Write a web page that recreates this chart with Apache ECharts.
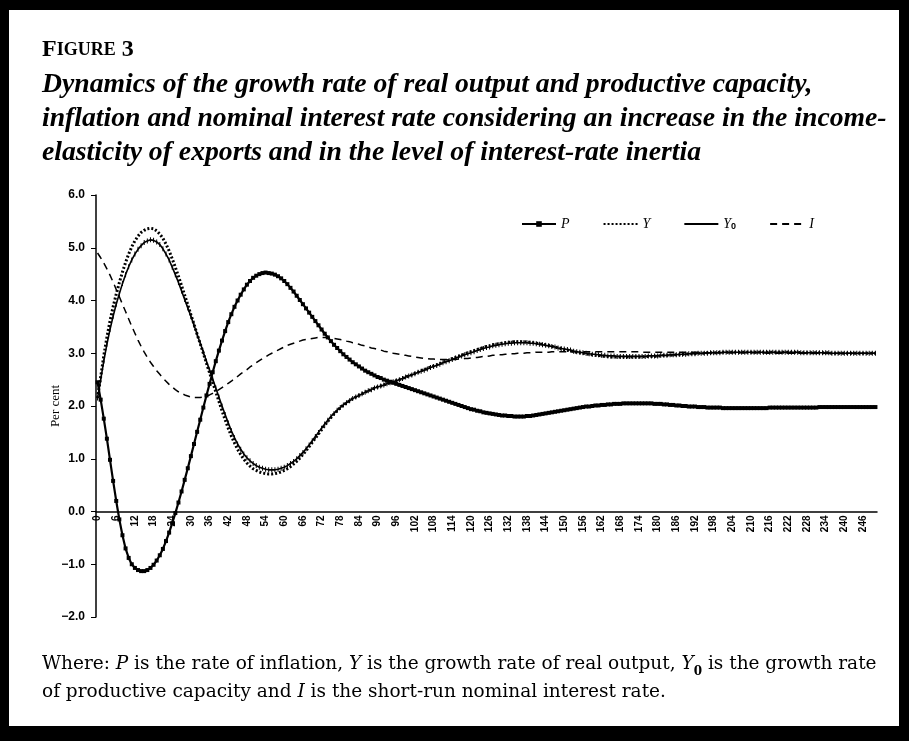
<!DOCTYPE html>
<html>
<head>
<meta charset="utf-8">
<script src="https://cdn.jsdelivr.net/npm/echarts@6.0.0/dist/echarts.min.js"></script>
<style>
html, body { margin: 0; padding: 0; background: #000; }
#chart { width: 909px; height: 741px; }
</style>
</head>
<body>
<div id="chart"></div>
<script>
// simulation periods 0..250 (category axis)
var periods = Array.from({ length: 251 }, function (_, i) { return String(i); });

// P - rate of inflation
var inflation = [
  2.45, 2.12, 1.76, 1.38, 0.98, 0.58, 0.2, -0.15, -0.45, -0.7,
  -0.88, -1.0, -1.07, -1.11, -1.13, -1.13, -1.11, -1.07, -1.01, -0.93,
  -0.83, -0.71, -0.56, -0.4, -0.22, -0.03, 0.17, 0.38, 0.6, 0.82,
  1.05, 1.28, 1.51, 1.74, 1.97, 2.2, 2.42, 2.64, 2.85, 3.05,
  3.24, 3.42, 3.59, 3.74, 3.88, 4.0, 4.11, 4.21, 4.3, 4.37,
  4.43, 4.47, 4.5, 4.52, 4.53, 4.52, 4.51, 4.49, 4.46, 4.42,
  4.37, 4.31, 4.24, 4.17, 4.09, 4.01, 3.93, 3.85, 3.77, 3.69,
  3.61, 3.53, 3.45, 3.37, 3.3, 3.23, 3.16, 3.1, 3.04, 2.98,
  2.93, 2.88, 2.83, 2.79, 2.75, 2.71, 2.67, 2.64, 2.61, 2.58,
  2.55, 2.53, 2.5, 2.48, 2.46, 2.44, 2.42, 2.4, 2.38, 2.36,
  2.34, 2.32, 2.3, 2.28, 2.26, 2.24, 2.22, 2.2, 2.18, 2.16,
  2.14, 2.12, 2.1, 2.08, 2.06, 2.04, 2.02, 2.0, 1.98, 1.96,
  1.94, 1.93, 1.91, 1.9, 1.88, 1.87, 1.86, 1.85, 1.84, 1.83,
  1.82, 1.82, 1.81, 1.81, 1.8, 1.8, 1.8, 1.8, 1.81, 1.81,
  1.82, 1.83, 1.84, 1.85, 1.86, 1.87, 1.88, 1.89, 1.9, 1.91,
  1.92, 1.93, 1.94, 1.95, 1.96, 1.97, 1.98, 1.99, 1.99, 2.0,
  2.01, 2.01, 2.02, 2.02, 2.03, 2.03, 2.04, 2.04, 2.04, 2.05,
  2.05, 2.05, 2.05, 2.05, 2.05, 2.05, 2.05, 2.05, 2.05, 2.04,
  2.04, 2.04, 2.03, 2.03, 2.02, 2.02, 2.01, 2.01, 2.0, 2.0,
  1.99, 1.99, 1.99, 1.98, 1.98, 1.98, 1.97, 1.97, 1.97, 1.97,
  1.97, 1.96, 1.96, 1.96, 1.96, 1.96, 1.96, 1.96, 1.96, 1.96,
  1.96, 1.96, 1.96, 1.96, 1.96, 1.96, 1.97, 1.97, 1.97, 1.97,
  1.97, 1.97, 1.97, 1.97, 1.97, 1.97, 1.97, 1.97, 1.97, 1.97,
  1.97, 1.97, 1.98, 1.98, 1.98, 1.98, 1.98, 1.98, 1.98, 1.98,
  1.98, 1.98, 1.98, 1.98, 1.98, 1.98, 1.98, 1.98, 1.98, 1.98,
  1.98
];

// Y - growth rate of real output
var outputGrowth = [
  2.15, 2.55, 2.95, 3.3, 3.61, 3.88, 4.12, 4.34, 4.54, 4.72,
  4.88, 5.02, 5.13, 5.22, 5.29, 5.33, 5.36, 5.37, 5.36, 5.32,
  5.26, 5.18, 5.07, 4.94, 4.79, 4.63, 4.46, 4.28, 4.1, 3.92,
  3.73, 3.55, 3.36, 3.18, 3.0, 2.81, 2.63, 2.45, 2.27, 2.09,
  1.91, 1.74, 1.58, 1.43, 1.3, 1.18, 1.08, 0.99, 0.92, 0.86,
  0.81, 0.78, 0.75, 0.73, 0.72, 0.71, 0.71, 0.72, 0.73, 0.75,
  0.78, 0.81, 0.85, 0.9, 0.95, 1.01, 1.08, 1.15, 1.23, 1.31,
  1.39, 1.47, 1.55, 1.63, 1.71, 1.78, 1.85, 1.91, 1.97, 2.02,
  2.06, 2.1, 2.14, 2.17, 2.2, 2.23, 2.26, 2.29, 2.31, 2.34,
  2.36, 2.38, 2.4, 2.42, 2.44, 2.46, 2.48, 2.5, 2.52, 2.55,
  2.57, 2.59, 2.62, 2.64, 2.67, 2.69, 2.71, 2.74, 2.76, 2.78,
  2.8, 2.83, 2.85, 2.87, 2.9, 2.92, 2.94, 2.96, 2.99, 3.01,
  3.03, 3.05, 3.07, 3.09, 3.11, 3.13, 3.14, 3.16, 3.17, 3.18,
  3.19, 3.2, 3.21, 3.21, 3.22, 3.22, 3.22, 3.22, 3.21, 3.21,
  3.2, 3.19, 3.18, 3.17, 3.16, 3.15, 3.13, 3.12, 3.1, 3.09,
  3.07, 3.06, 3.05, 3.03, 3.02, 3.01, 3.0, 2.99, 2.98, 2.97,
  2.96, 2.96, 2.95, 2.94, 2.94, 2.93, 2.93, 2.93, 2.93, 2.93,
  2.93, 2.93, 2.93, 2.93, 2.93, 2.93, 2.94, 2.94, 2.94, 2.94,
  2.95, 2.95, 2.96, 2.96, 2.96, 2.97, 2.97, 2.97, 2.98, 2.98,
  2.99, 2.99, 2.99, 3.0, 3.0, 3.0, 3.01, 3.01, 3.01, 3.01,
  3.02, 3.02, 3.02, 3.02, 3.02, 3.02, 3.02, 3.02, 3.02, 3.02,
  3.02, 3.02, 3.02, 3.02, 3.02, 3.02, 3.02, 3.02, 3.02, 3.02,
  3.02, 3.02, 3.02, 3.02, 3.02, 3.02, 3.01, 3.01, 3.01, 3.01,
  3.01, 3.01, 3.01, 3.01, 3.01, 3.01, 3.0, 3.0, 3.0, 3.0,
  3.0, 3.0, 3.0, 3.0, 3.0, 3.0, 3.0, 3.0, 3.0, 3.0,
  3.0
];

// Y0 - growth rate of productive capacity
var capacityGrowth = [
  2.15, 2.5, 2.85, 3.17, 3.45, 3.7, 3.93, 4.13, 4.32, 4.49,
  4.64, 4.77, 4.88, 4.97, 5.04, 5.1, 5.13, 5.15, 5.14, 5.11,
  5.06, 4.98, 4.88, 4.77, 4.63, 4.49, 4.34, 4.18, 4.02, 3.86,
  3.7, 3.53, 3.36, 3.19, 3.02, 2.85, 2.68, 2.51, 2.34, 2.17,
  2.0, 1.84, 1.68, 1.53, 1.4, 1.28, 1.18, 1.09, 1.02, 0.96,
  0.91, 0.87, 0.84, 0.82, 0.8, 0.79, 0.79, 0.79, 0.8, 0.82,
  0.84, 0.87, 0.91, 0.95, 1.0, 1.06, 1.12, 1.19, 1.26, 1.34,
  1.42, 1.5, 1.58, 1.66, 1.73, 1.8, 1.86, 1.92, 1.97, 2.02,
  2.06, 2.1, 2.14, 2.17, 2.2, 2.23, 2.26, 2.29, 2.31, 2.34,
  2.36, 2.38, 2.4, 2.42, 2.44, 2.46, 2.48, 2.5, 2.52, 2.55,
  2.57, 2.59, 2.61, 2.64, 2.66, 2.68, 2.7, 2.73, 2.75, 2.77,
  2.79, 2.82, 2.84, 2.86, 2.88, 2.91, 2.93, 2.95, 2.97, 2.99,
  3.01, 3.03, 3.05, 3.07, 3.09, 3.11, 3.12, 3.14, 3.15, 3.16,
  3.17, 3.18, 3.19, 3.19, 3.2, 3.2, 3.2, 3.2, 3.2, 3.19,
  3.19, 3.18, 3.17, 3.16, 3.15, 3.14, 3.13, 3.12, 3.1, 3.09,
  3.08, 3.07, 3.06, 3.04, 3.03, 3.02, 3.01, 3.0, 2.99, 2.98,
  2.98, 2.97, 2.96, 2.96, 2.95, 2.95, 2.95, 2.94, 2.94, 2.94,
  2.94, 2.94, 2.94, 2.94, 2.94, 2.94, 2.94, 2.95, 2.95, 2.95,
  2.95, 2.96, 2.96, 2.96, 2.97, 2.97, 2.97, 2.98, 2.98, 2.98,
  2.99, 2.99, 2.99, 3.0, 3.0, 3.0, 3.0, 3.01, 3.01, 3.01,
  3.01, 3.02, 3.02, 3.02, 3.02, 3.02, 3.02, 3.02, 3.02, 3.02,
  3.02, 3.02, 3.02, 3.02, 3.02, 3.02, 3.02, 3.02, 3.02, 3.02,
  3.02, 3.02, 3.02, 3.02, 3.02, 3.02, 3.01, 3.01, 3.01, 3.01,
  3.01, 3.01, 3.01, 3.01, 3.01, 3.01, 3.0, 3.0, 3.0, 3.0,
  3.0, 3.0, 3.0, 3.0, 3.0, 3.0, 3.0, 3.0, 3.0, 3.0,
  3.0
];

// I - short-run nominal interest rate
var interestRate = [
  4.9, 4.81, 4.71, 4.6, 4.48, 4.35, 4.21, 4.07, 3.93, 3.79,
  3.65, 3.51, 3.38, 3.25, 3.13, 3.02, 2.92, 2.83, 2.75, 2.67,
  2.6, 2.53, 2.47, 2.41, 2.36, 2.31, 2.27, 2.24, 2.21, 2.19,
  2.17, 2.16, 2.16, 2.16, 2.17, 2.19, 2.21, 2.24, 2.27, 2.31,
  2.35, 2.39, 2.43, 2.47, 2.52, 2.56, 2.61, 2.65, 2.69, 2.74,
  2.78, 2.82, 2.86, 2.9, 2.93, 2.97, 3.0, 3.03, 3.06, 3.09,
  3.12, 3.15, 3.17, 3.19, 3.21, 3.23, 3.25, 3.26, 3.27, 3.28,
  3.29, 3.3, 3.3, 3.3, 3.3, 3.29, 3.28, 3.27, 3.26, 3.25,
  3.23, 3.22, 3.2, 3.19, 3.17, 3.15, 3.14, 3.12, 3.1, 3.09,
  3.07, 3.06, 3.04, 3.03, 3.02, 3.0, 2.99, 2.98, 2.97, 2.96,
  2.95, 2.94, 2.93, 2.92, 2.91, 2.9, 2.9, 2.89, 2.89, 2.88,
  2.88, 2.88, 2.88, 2.88, 2.88, 2.88, 2.89, 2.89, 2.9, 2.9,
  2.91, 2.92, 2.92, 2.93, 2.94, 2.94, 2.95, 2.96, 2.96, 2.97,
  2.97, 2.98, 2.98, 2.99, 2.99, 3.0, 3.0, 3.0, 3.01, 3.01,
  3.01, 3.02, 3.02, 3.02, 3.02, 3.02, 3.03, 3.03, 3.03, 3.03,
  3.03, 3.03, 3.03, 3.03, 3.03, 3.03, 3.03, 3.03, 3.03, 3.03,
  3.03, 3.03, 3.03, 3.03, 3.03, 3.03, 3.03, 3.03, 3.03, 3.03,
  3.03, 3.03, 3.03, 3.03, 3.03, 3.02, 3.02, 3.02, 3.02, 3.02,
  3.02, 3.02, 3.02, 3.02, 3.02, 3.02, 3.02, 3.02, 3.02, 3.02,
  3.02, 3.02, 3.02, 3.02, 3.02, 3.01, 3.01, 3.01, 3.01, 3.01,
  3.01, 3.01, 3.01, 3.01, 3.01, 3.01, 3.01, 3.01, 3.01, 3.01,
  3.01, 3.01, 3.01, 3.01, 3.01, 3.0, 3.0, 3.0, 3.0, 3.0,
  3.0, 3.0, 3.0, 3.0, 3.0, 3.0, 3.0, 3.0, 3.0, 3.0,
  3.0, 3.0, 3.0, 3.0, 3.0, 3.0, 3.0, 3.0, 3.0, 3.0,
  3.0, 3.0, 3.0, 3.0, 3.0, 3.0, 3.0, 3.0, 3.0, 3.0,
  3.0
];

var serif = '"Liberation Serif", "DejaVu Serif", serif';
var wideSerif = '"DejaVu Serif", "Liberation Serif", serif';
var sans = '"Liberation Sans", "DejaVu Sans", sans-serif';

var chart = echarts.init(document.getElementById('chart'));

var option = {
  animation: false,
  backgroundColor: '#000',
  graphic: [{
    type: 'rect', z: -10, silent: true,
    shape: { x: 9, y: 10, width: 890, height: 716 },
    style: { fill: '#fff' }
  }],
  title: [{
    left: 42, top: 38, padding: 0,
    text: '{f|F}{s|IGURE}{n| 3}',
    textStyle: {
      rich: {
        f: { fontFamily: serif, fontSize: 24, color: '#000' },
        s: { fontFamily: serif, fontSize: 18, color: '#000' },
        n: { fontFamily: serif, fontSize: 24, fontWeight: 'bold', color: '#000' }
      }
    }
  }, {
    left: 42, top: 68, padding: 0,
    text: 'Dynamics of the growth rate of real output and productive capacity,\n' +
      'inflation and nominal interest rate considering an increase in the income-\n' +
      'elasticity of exports and in the level of interest-rate inertia',
    textStyle: {
      fontFamily: serif, fontStyle: 'italic', fontWeight: 'bold',
      fontSize: 27.7, lineHeight: 34, color: '#000'
    }
  }, {
    left: 42, top: 650, padding: 0,
    text: 'Where: {i|P} is the rate of inflation, {i|Y} is the growth rate of real output, {i|Y}{sub|0} is the growth rate\n' +
      'of productive capacity and {i|I} is the short-run nominal interest rate.',
    textStyle: {
      fontFamily: wideSerif, fontSize: 18.5, lineHeight: 28, color: '#000', fontWeight: 'normal',
      rich: {
        i: { fontFamily: wideSerif, fontStyle: 'italic', fontSize: 18.5, color: '#000' },
        sub: { fontFamily: wideSerif, fontSize: 12, fontWeight: 'bold', color: '#000', verticalAlign: 'bottom', padding: [8, 0, 0, 0] }
      }
    }
  }],
  legend: {
    left: 516, top: 212,
    itemWidth: 34, itemHeight: 7, itemGap: 33,
    data: [
      { name: 'P' },
      { name: 'Y', itemStyle: { opacity: 0 } },
      { name: 'Y0', itemStyle: { opacity: 0 } },
      { name: 'I', itemStyle: { opacity: 0 } }
    ],
    formatter: function (name) {
      return name === 'Y0' ? '{i|Y}{sub|0}' : '{i|' + name + '}';
    },
    textStyle: {
      color: '#000',
      rich: {
        i: { fontFamily: serif, fontStyle: 'italic', fontSize: 14, color: '#000' },
        sub: { fontFamily: sans, fontWeight: 'bold', fontSize: 9, color: '#000', verticalAlign: 'bottom', padding: [6, 0, 0, 0] }
      }
    }
  },
  grid: { left: 96, right: 32, top: 195, bottom: 124 },
  xAxis: {
    type: 'category',
    data: periods,
    boundaryGap: true,
    offset: -105.5,
    axisLine: { onZero: false, lineStyle: { color: '#000', width: 1.5 } },
    axisTick: { interval: 0, length: 3, lineStyle: { color: '#000', width: 1 } },
    axisLabel: {
      interval: 5, rotate: 90, margin: 4,
      color: '#000', fontFamily: sans, fontWeight: 'bold', fontSize: 10
    },
    splitLine: { show: false }
  },
  yAxis: {
    type: 'value', min: -2, max: 6, interval: 1,
    name: 'Per cent', nameLocation: 'middle', nameGap: 34, nameRotate: 90,
    nameMoveOverlap: false,
    nameTextStyle: { fontFamily: serif, fontSize: 13, color: '#000' },
    axisLine: { show: true, lineStyle: { color: '#000', width: 1.5 } },
    axisTick: { show: true, length: 5, lineStyle: { color: '#000' } },
    axisLabel: {
      color: '#000', fontFamily: sans, fontWeight: 'bold', fontSize: 12, margin: 11,
      formatter: function (v) { return (v < 0 ? '\u2212' : '') + Math.abs(v).toFixed(1); }
    },
    splitLine: { show: false }
  },
  series: [{
    name: 'P', type: 'line', data: inflation, z: 4,
    symbol: 'rect', symbolSize: 4, showAllSymbol: true,
    itemStyle: { color: '#000' },
    lineStyle: { color: '#000', width: 2.2 }
  }, {
    name: 'Y', type: 'line', data: outputGrowth, z: 3,
    symbol: 'none',
    itemStyle: { color: '#000' },
    lineStyle: { color: '#000', width: 3, type: [2, 2] }
  }, {
    name: 'Y0', type: 'line', data: capacityGrowth, z: 3,
    symbol: 'rect', symbolSize: [1, 5], showAllSymbol: true,
    itemStyle: { color: '#000' },
    lineStyle: { color: '#000', width: 1.6 }
  }, {
    name: 'I', type: 'line', data: interestRate, z: 2,
    symbol: 'none',
    itemStyle: { color: '#000' },
    lineStyle: { color: '#000', width: 1.5, type: [7, 5] }
  }]
};

chart.setOption(option);
</script>
</body>
</html>
